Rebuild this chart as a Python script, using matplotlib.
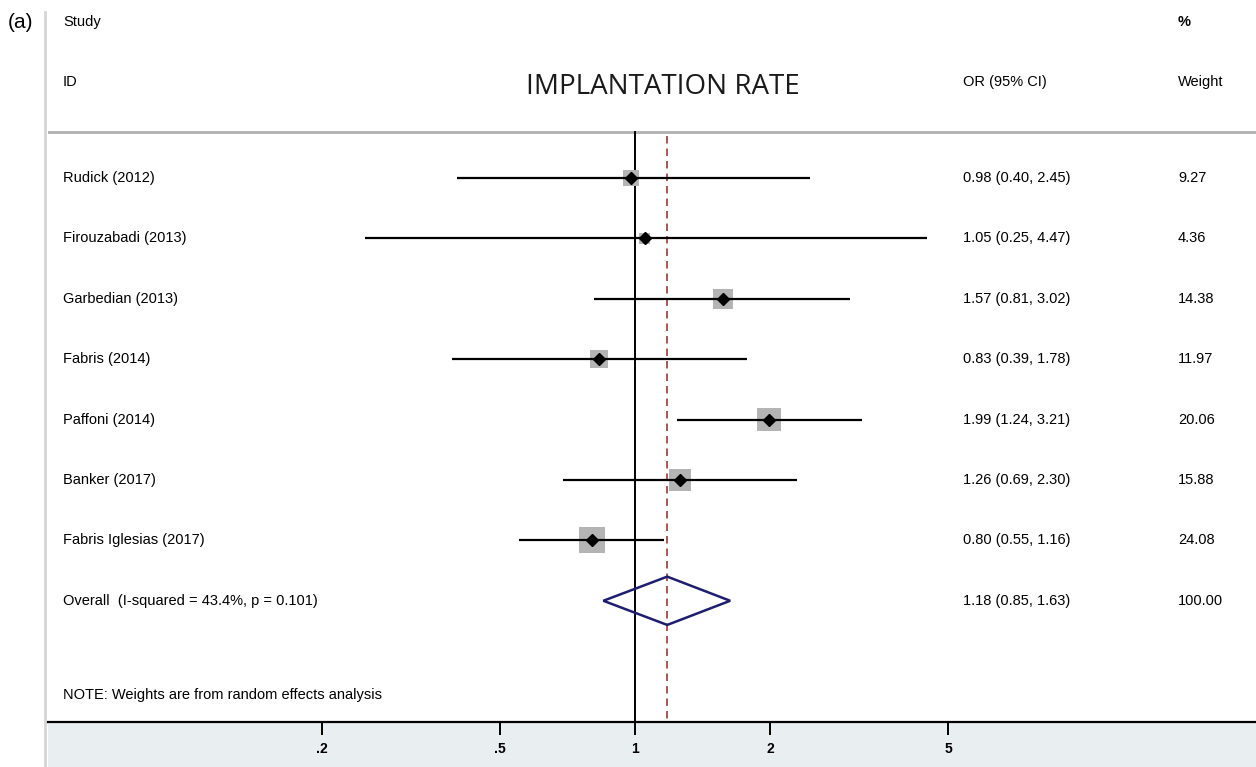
import matplotlib
matplotlib.use("Agg")
import matplotlib.pyplot as plt
from matplotlib.patches import Polygon, Rectangle
from matplotlib.lines import Line2D
import numpy as np

plt.rcParams['font.family'] = ['Liberation Sans', 'DejaVu Sans']

studies = ["Rudick (2012)", "Firouzabadi (2013)", "Garbedian (2013)", "Fabris (2014)",
           "Paffoni (2014)", "Banker (2017)", "Fabris Iglesias (2017)"]
or_est = [0.98, 1.05, 1.57, 0.83, 1.99, 1.26, 0.80]
ci_lo = [0.40, 0.25, 0.81, 0.39, 1.24, 0.69, 0.55]
ci_hi = [2.45, 4.47, 3.02, 1.78, 3.21, 2.30, 1.16]
weights = [9.27, 4.36, 14.38, 11.97, 20.06, 15.88, 24.08]
overall_label = "Overall  (I-squared = 43.4%, p = 0.101)"
overall = (1.18, 0.85, 1.63)
overall_weight = "100.00"
tick_vals = [0.2, 0.5, 1, 2, 5]
tick_labels = [".2", ".5", "1", "2", "5"]
note = "NOTE: Weights are from random effects analysis"
title = "IMPLANTATION RATE"

W, H = 1256, 767
fig = plt.figure(figsize=(W / 100, H / 100), dpi=100)
fig.patch.set_facecolor('white')

# bottom strip background
fig.patches.append(Rectangle((48 / W, 0), 1 - 48 / W, 45 / H, transform=fig.transFigure,
                             facecolor='#e9eef1', edgecolor='none', zorder=-5))
# left light border line
fig.add_artist(Line2D([45 / W, 45 / W], [0, 1 - 12 / H], transform=fig.transFigure,
                      color='#d6d6d6', lw=2, zorder=-4))

ax = fig.add_axes([48 / W, 45 / H, 1 - 48 / W, 722 / H])
ax.set_facecolor('none')
ax.set_xscale('log')
ax.set_xlim(0.0491, 24.25)
ybot, ytop = 10.007, -1.947
ax.set_ylim(ybot, ytop)

rows = np.arange(1, len(studies) + 1)
ov_row = len(studies) + 1

# header line
ax.axhline(0.238, color='#b0b0b0', lw=2)

# reference lines
ax.plot([1, 1], [0.238, ybot], color='black', lw=1.4, zorder=2)
ax.plot([overall[0]] * 2, [0.30, ybot], color='#9b3a3a', lw=1.2,
        dashes=(4.5, 3), zorder=2)

# squares sized by weight
wmax = max(weights)
sides_pt = [26 * np.sqrt(w / wmax) * 0.72 for w in weights]
ax.scatter(or_est, rows, marker='s', s=[s ** 2 for s in sides_pt], color='#b4b4b4',
           edgecolor='none', zorder=3)
# CI lines
ax.hlines(rows, ci_lo, ci_hi, color='black', lw=1.6, zorder=4)
# point estimates
ax.plot(or_est, rows, linestyle='none', marker='D', color='black', markersize=6, zorder=5)

# overall diamond
h = 0.40
est, lo, hi = overall
ax.add_patch(Polygon([(lo, ov_row), (est, ov_row - h), (hi, ov_row), (est, ov_row + h)],
                     closed=True, fill=False, edgecolor='#1e1e6e', lw=1.8, zorder=5))

# text columns
x_lab = 15 / 1208
x_or = 915 / 1208
x_w = 1130 / 1208
tr = ax.get_yaxis_transform()
fs = 10.5
ax.text(x_lab, -1.583, "Study", transform=tr, fontsize=fs, va='center', ha='left')
ax.text(x_lab, -0.589, "ID", transform=tr, fontsize=fs, va='center', ha='left')
ax.text(x_or, -0.589, "OR (95% CI)", transform=tr, fontsize=fs, va='center', ha='left')
ax.text(x_w, -1.583, "%", transform=tr, fontsize=fs, va='center', ha='left', fontweight='bold')
ax.text(x_w, -0.589, "Weight", transform=tr, fontsize=fs, va='center', ha='left')
ax.text(615 / 1208, -0.507, title, transform=tr, fontsize=20, va='center', ha='center',
        family=['Open Sans', 'DejaVu Sans'], color='#1a1a1a')

for r, s, e, l, u, w in zip(rows, studies, or_est, ci_lo, ci_hi, weights):
    ax.text(x_lab, r, s, transform=tr, fontsize=fs, va='center', ha='left')
    ax.text(x_or, r, f"{e:.2f} ({l:.2f}, {u:.2f})", transform=tr, fontsize=fs,
            va='center', ha='left')
    ax.text(x_w, r, f"{w:.2f}", transform=tr, fontsize=fs, va='center', ha='left')
ax.text(x_lab, ov_row, overall_label, transform=tr, fontsize=fs, va='center', ha='left')
ax.text(x_or, ov_row, f"{est:.2f} ({lo:.2f}, {hi:.2f})", transform=tr, fontsize=fs,
        va='center', ha='left')
ax.text(x_w, ov_row, overall_weight, transform=tr, fontsize=fs, va='center', ha='left')
ax.text(x_lab, 9.56, note, transform=tr, fontsize=fs, va='center', ha='left')

# axes styling
for sp in ['top', 'right', 'left']:
    ax.spines[sp].set_visible(False)
ax.spines['bottom'].set_linewidth(1.6)
ax.set_yticks([])
ax.set_xticks(tick_vals)
ax.set_xticklabels(tick_labels, fontweight='bold')
ax.xaxis.set_minor_locator(matplotlib.ticker.NullLocator())
ax.tick_params(axis='x', direction='out', length=9.5, width=1.4, labelsize=10, pad=5)

fig.text(8 / W, 1 - 23 / H, "(a)", fontsize=15, va='center', ha='left')

fig.savefig("out.png", dpi=100)
